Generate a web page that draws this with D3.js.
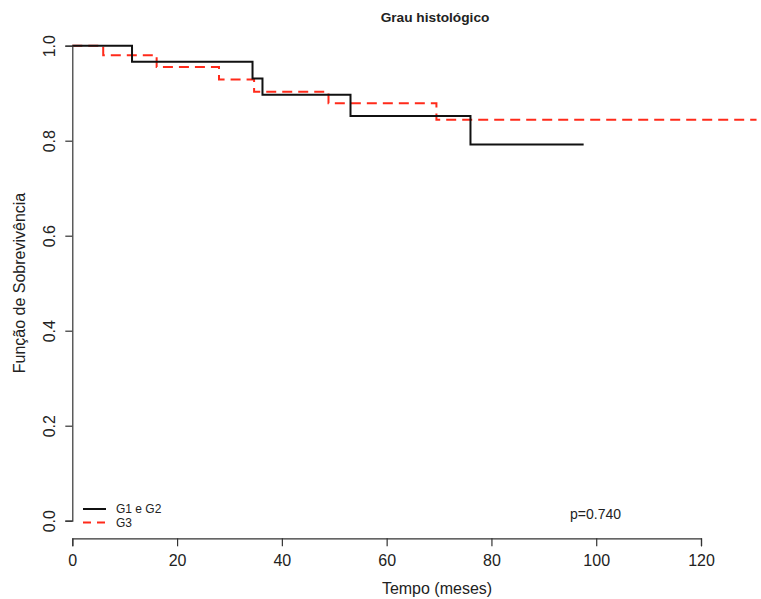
<!DOCTYPE html>
<html>
<head>
<meta charset="utf-8">
<script src="https://cdn.jsdelivr.net/npm/d3@7"></script>
<style>
  body { margin: 0; background: #fff; }
  svg { display: block; font-family: "Liberation Sans", Arial, sans-serif; }
</style>
</head>
<body>
<svg id="chart" width="761" height="599"></svg>
<script>
// Kaplan–Meier step curves: event times (months) and survival after each drop
const groupNames = ["G1 e G2", "G3"];
const g12Times = [0, 11.4, 34.4, 36.3, 53.1, 76.0];
const g12Surv  = [1.0, 0.966, 0.931, 0.897, 0.852, 0.792];
const g12End = 97.6;
const g3Times = [0, 5.9, 16.1, 28.0, 34.7, 48.9, 69.5];
const g3Surv  = [1.0, 0.980, 0.955, 0.929, 0.903, 0.879, 0.844];
const g3End = 130.6;
const xTicks = [0, 20, 40, 60, 80, 100, 120];
const yTicks = [0.0, 0.2, 0.4, 0.6, 0.8, 1.0];
const pText = "p=0.740";

const svg = d3.select("#chart");
const x = d3.scaleLinear().domain([0, 120]).range([72.3, 701]);
const y = d3.scaleLinear().domain([0, 1]).range([520.7, 45.7]);

function stepPoints(times, surv, end) {
  const pts = times.map((t, i) => [t, surv[i]]);
  pts.push([end, surv[surv.length - 1]]);
  return pts;
}
const line = d3.line().x(d => x(d[0])).y(d => y(d[1])).curve(d3.curveStepAfter);

// Survival curves
svg.append("path")
  .datum(stepPoints(g3Times, g3Surv, g3End))
  .attr("d", line)
  .attr("fill", "none")
  .attr("stroke", "#ff2a1a")
  .attr("stroke-width", 2)
  .attr("stroke-dasharray", "10,6");

svg.append("path")
  .datum(stepPoints(g12Times, g12Surv, g12End))
  .attr("d", line)
  .attr("fill", "none")
  .attr("stroke", "#111")
  .attr("stroke-width", 2);

// Axes
const xAxis = svg.append("g")
  .attr("transform", "translate(0,538.3)")
  .call(d3.axisBottom(x).tickValues(xTicks).tickFormat(d3.format("d")).tickSizeOuter(0).tickSize(8).tickPadding(4));
const yAxis = svg.append("g")
  .attr("transform", "translate(72.3,0)")
  .call(d3.axisLeft(y).tickValues(yTicks).tickFormat(d3.format(".1f")).tickSizeOuter(0).tickSize(7));

[xAxis, yAxis].forEach(a => {
  a.select(".domain").attr("stroke", "#333").attr("stroke-width", 1.2);
  a.selectAll(".tick line").attr("stroke", "#333").attr("stroke-width", 1.2);
  a.selectAll(".tick text")
    .attr("font-size", 16)
    .attr("fill", "#222")
    .attr("font-family", "Liberation Sans, Arial, sans-serif");
});
xAxis.selectAll(".tick text").attr("dy", "0.71em").attr("y", 16);
yAxis.selectAll(".tick text")
  .attr("x", null).attr("dy", null)
  .attr("text-anchor", "middle")
  .attr("transform", "translate(-17,0) rotate(-90)")
  .attr("y", 0);

// Titles
svg.append("text")
  .attr("x", 435).attr("y", 22)
  .attr("text-anchor", "middle")
  .attr("font-size", 13.7).attr("font-weight", "bold").attr("fill", "#222")
  .text("Grau histológico");

svg.append("text")
  .attr("x", 437).attr("y", 594)
  .attr("text-anchor", "middle")
  .attr("font-size", 16).attr("fill", "#222")
  .text("Tempo (meses)");

svg.append("text")
  .attr("transform", "translate(25,283) rotate(-90)")
  .attr("text-anchor", "middle")
  .attr("font-size", 16).attr("fill", "#222")
  .text("Função de Sobrevivência");

// Legend
const legend = svg.append("g");
const legendStyles = [
  { color: "#111", dash: null, yPos: 509 },
  { color: "#ff2a1a", dash: "8,6", yPos: 522.5 }
];
groupNames.forEach((name, i) => {
  const s = legendStyles[i];
  legend.append("line")
    .attr("x1", 83).attr("x2", 106)
    .attr("y1", s.yPos).attr("y2", s.yPos)
    .attr("stroke", s.color).attr("stroke-width", 2)
    .attr("stroke-dasharray", s.dash);
  legend.append("text")
    .attr("x", 116).attr("y", s.yPos + 4.3)
    .attr("font-size", 12).attr("fill", "#222")
    .text(name);
});

svg.append("text")
  .attr("x", 570).attr("y", 519)
  .attr("font-size", 14).attr("fill", "#222")
  .text(pText);
</script>
</body>
</html>
